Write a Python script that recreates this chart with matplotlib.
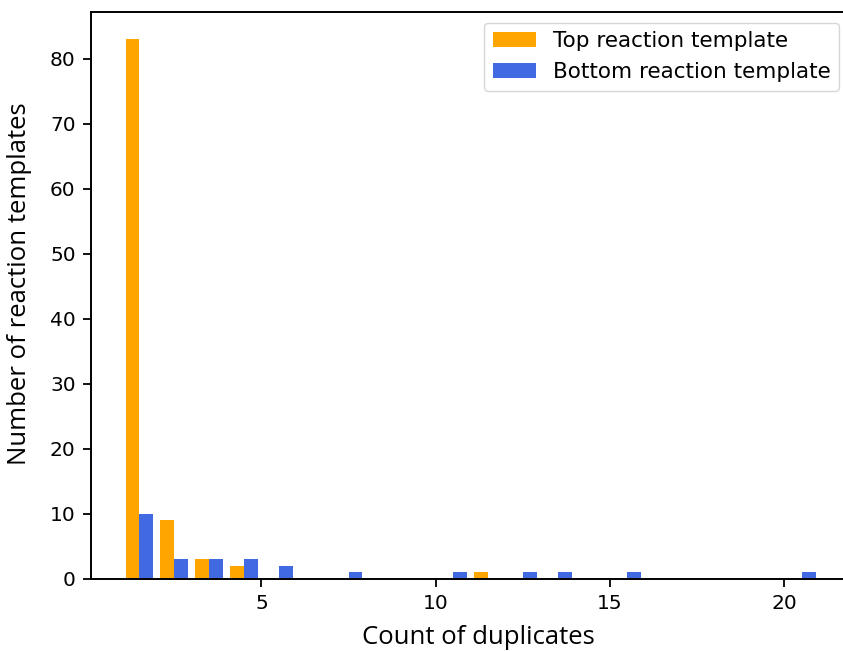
import matplotlib
matplotlib.use("Agg")
import matplotlib.pyplot as plt
import numpy as np

# Histogram bins (count of duplicates), edges 1..21
bin_edges = list(range(1, 22))
bin_lefts = list(range(1, 21))

top_counts = [83, 9, 3, 2, 0, 0, 0, 0, 0, 0, 1, 0, 0, 0, 0, 0, 0, 0, 0, 0]
bottom_counts = [10, 3, 3, 3, 2, 0, 1, 0, 0, 1, 0, 1, 1, 0, 1, 0, 0, 0, 0, 1]

labels = ["Top reaction template", "Bottom reaction template"]
colors = ["orange", "royalblue"]
x_label = "Count of duplicates"
y_label = "Number of reaction templates"

fig = plt.figure(figsize=(8.43, 6.51), dpi=100)
W, H = 843, 651
left_px, right_px, top_px, bottom_px = 91, 850, 12, 579
ax = fig.add_axes([left_px / W, 1 - bottom_px / H, (right_px - left_px) / W, (bottom_px - top_px) / H])

centers = [b + 0.5 for b in bin_lefts]
ax.hist([centers, centers], bins=bin_edges, weights=[top_counts, bottom_counts],
        color=colors, label=labels)

ax.set_xticks([5, 10, 15, 20])
ax.set_yticks(range(0, 81, 10))
ax.tick_params(labelsize=14.5, length=6, width=1.3, pad=5)
for s in ax.spines.values():
    s.set_linewidth(1.4)

lab_font = dict(family=["Open Sans", "DejaVu Sans"], fontsize=18.5)
ax.set_xlabel(x_label, **lab_font)
ax.set_ylabel(y_label, **lab_font)
ax.xaxis.set_label_coords(0.51, -0.082)
ax.yaxis.set_label_coords(-0.078, 0.52)

ax.legend(loc="upper right", fontsize=15.5, borderaxespad=0.5)

fig.savefig("out.png", dpi=100)
